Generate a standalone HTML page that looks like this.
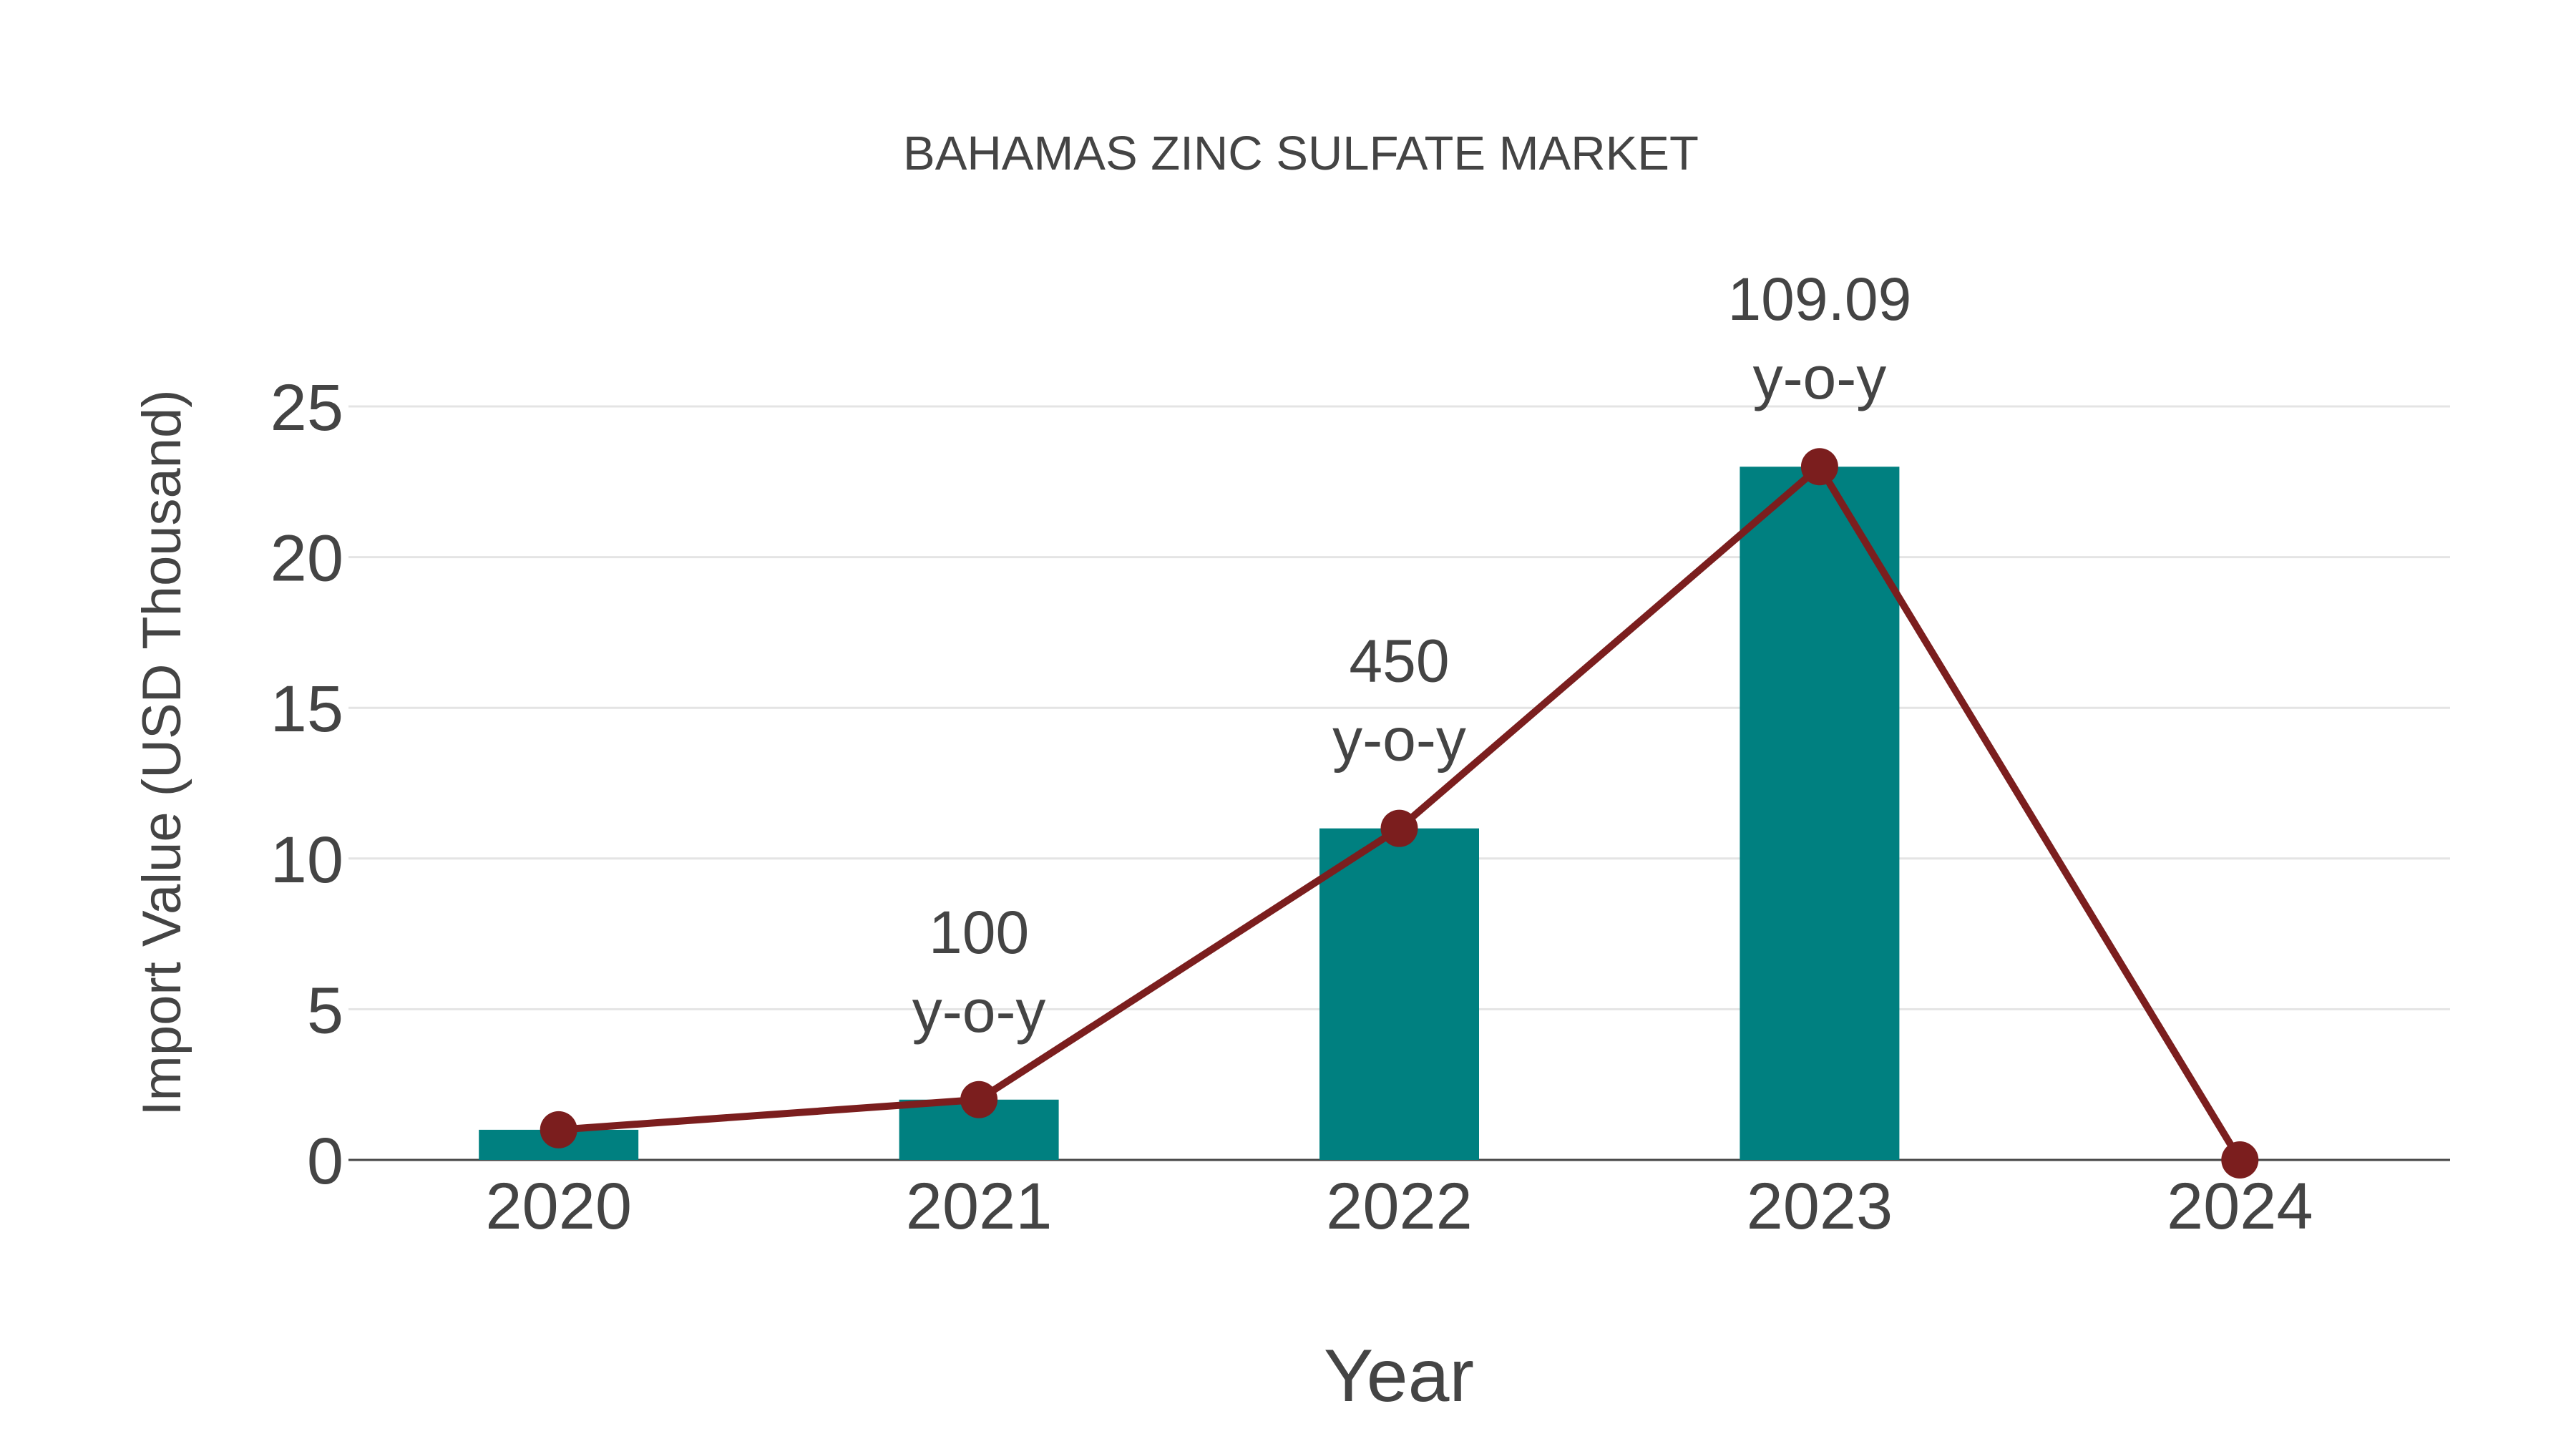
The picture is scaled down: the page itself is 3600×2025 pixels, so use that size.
<!DOCTYPE html>
<html><head><meta charset="utf-8"><style>
html,body{margin:0;padding:0;background:#fff;}
svg{display:block;font-family:"Liberation Sans",sans-serif;}
</style></head><body>
<svg id="chart" width="3600" height="2025" viewBox="0 0 3600 2025">
<text x="1818" y="237" text-anchor="middle" font-size="67" fill="#444">BAHAMAS ZINC SULFATE MARKET</text>
<g id="grid"></g>
<g id="bars"></g>
<g id="line"></g>
<g id="ann"></g>
<g id="xt"></g>
<text x="1955" y="1958" text-anchor="middle" font-size="104" fill="#444">Year</text>
<text transform="translate(252,1052) rotate(-90)" text-anchor="middle" font-size="76" fill="#444">Import Value (USD Thousand)</text>
</svg>
<script>
const categories=["2020","2021","2022","2023","2024"];
const barValues=[1,2,11,23,0];
const lineValues=[1,2,11,23,0];
const yoyLabels=["","100","450","109.09",""];
const yTicks=[0,5,10,15,20,25];
const NS="http://www.w3.org/2000/svg";
const x0=487,x1=3424,yZero=1621,yTop=568,yMaxV=25;
const step=(x1-x0)/categories.length;
const xs=i=>x0+step*(i+0.5);
const ys=v=>yZero-(v/yMaxV)*(yZero-yTop);
function mk(t,a,p){const e=document.createElementNS(NS,t);for(const k in a)e.setAttribute(k,a[k]);p.appendChild(e);return e;}
const grid=document.getElementById('grid');
yTicks.forEach(v=>{
  if(v>0){const l=mk('line',{x1:x0,x2:x1,y1:ys(v),y2:ys(v),stroke:'#e4e4e4','stroke-width':3},grid);
  
  }
  const t=mk('text',{x:480,y:ys(v)+33,'text-anchor':'end','font-size':92,fill:'#444'},grid);
  t.textContent=v;
  
  
});
const ax=mk('line',{x1:x0,x2:x1,y1:yZero,y2:yZero,stroke:'#444','stroke-width':3},grid);


const bars=document.getElementById('bars'),bw=223;
barValues.forEach((v,i)=>{
  const r=mk('rect',{x:xs(i)-bw/2,y:ys(v),width:bw,height:yZero-ys(v),fill:'#008080'},bars);
  
  
});
const lg=document.getElementById('line');
const pl=mk('polyline',{points:lineValues.map((v,i)=>xs(i)+','+ys(v)).join(' '),fill:'none',stroke:'#7b1e1e','stroke-width':10},lg);


lineValues.forEach((v,i)=>{
  const c=mk('circle',{cx:xs(i),cy:ys(v),r:26,fill:'#7b1e1e'},lg);
  
  
});
const ann=document.getElementById('ann');
yoyLabels.forEach((s,i)=>{
  if(!s)return;
  const py=ys(lineValues[i]);
  const a=mk('text',{x:xs(i),y:py-205,'text-anchor':'middle','font-size':84,fill:'#444'},ann);
  a.textContent=s;
  
  
  const b=mk('text',{x:xs(i),y:py-95,'text-anchor':'middle','font-size':84,fill:'#444'},ann);
  b.textContent='y-o-y';
  
  
});
const xt=document.getElementById('xt');
categories.forEach((c,i)=>{
  const t=mk('text',{x:xs(i),y:1717,'text-anchor':'middle','font-size':92,fill:'#444'},xt);
  t.textContent=c;
  
  
});
</script>
</body></html>
